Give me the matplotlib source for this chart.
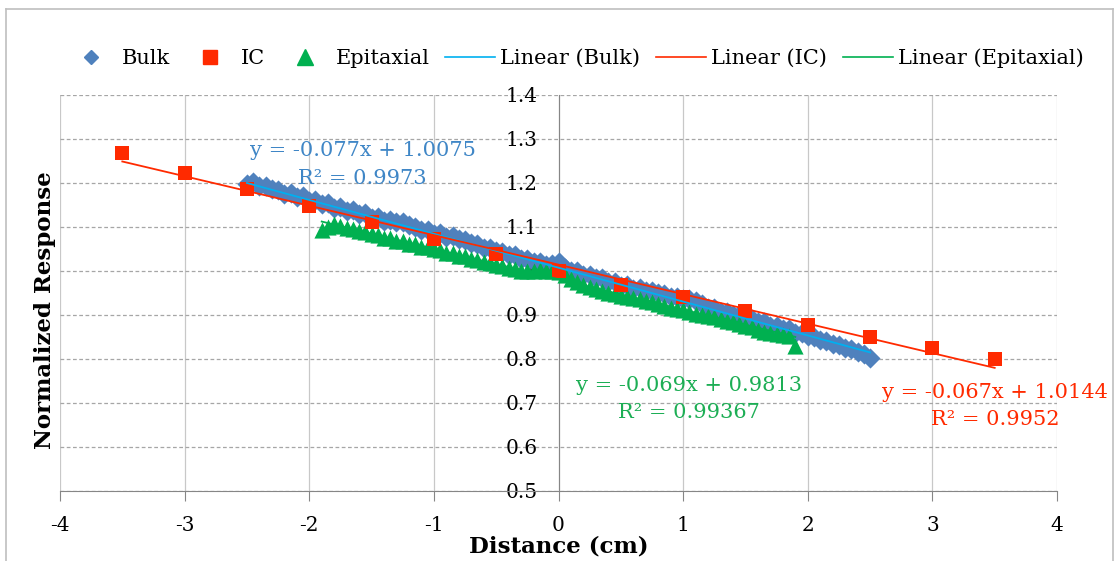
import matplotlib
matplotlib.use("Agg")
import matplotlib.pyplot as plt
from matplotlib.lines import Line2D

# --- data ---
bulk_x = [-2.50, -2.45, -2.40, -2.35, -2.30, -2.25, -2.20, -2.15, -2.10, -2.05,
          -2.00, -1.95, -1.90, -1.85, -1.80, -1.75, -1.70, -1.65, -1.60, -1.55,
          -1.50, -1.45, -1.40, -1.35, -1.30, -1.25, -1.20, -1.15, -1.10, -1.05,
          -1.00, -0.95, -0.90, -0.85, -0.80, -0.75, -0.70, -0.65, -0.60, -0.55,
          -0.50, -0.45, -0.40, -0.35, -0.30, -0.25, -0.20, -0.15, -0.10, -0.05,
          0.00, 0.05, 0.10, 0.15, 0.20, 0.25, 0.30, 0.35, 0.40, 0.45,
          0.50, 0.55, 0.60, 0.65, 0.70, 0.75, 0.80, 0.85, 0.90, 0.95,
          1.00, 1.05, 1.10, 1.15, 1.20, 1.25, 1.30, 1.35, 1.40, 1.45,
          1.50, 1.55, 1.60, 1.65, 1.70, 1.75, 1.80, 1.85, 1.90, 1.95,
          2.00, 2.05, 2.10, 2.15, 2.20, 2.25, 2.30, 2.35, 2.40, 2.45, 2.50]
bulk_y = [1.198, 1.203, 1.194, 1.193, 1.186, 1.184, 1.175, 1.177, 1.168, 1.170,
          1.160, 1.161, 1.152, 1.154, 1.144, 1.146, 1.136, 1.138, 1.129, 1.131,
          1.121, 1.122, 1.114, 1.116, 1.112, 1.112, 1.104, 1.101, 1.093, 1.093,
          1.085, 1.086, 1.077, 1.079, 1.072, 1.071, 1.063, 1.062, 1.053, 1.053,
          1.045, 1.044, 1.036, 1.036, 1.028, 1.028, 1.020, 1.021, 1.014, 1.015,
          1.020, 1.007, 0.999, 1.000, 0.991, 0.991, 0.983, 0.984, 0.975, 0.976,
          0.967, 0.968, 0.960, 0.961, 0.954, 0.955, 0.949, 0.948, 0.942, 0.940,
          0.936, 0.937, 0.931, 0.925, 0.916, 0.915, 0.907, 0.907, 0.899, 0.899,
          0.891, 0.891, 0.883, 0.883, 0.876, 0.876, 0.868, 0.868, 0.860, 0.859,
          0.852, 0.850, 0.843, 0.842, 0.834, 0.832, 0.825, 0.822, 0.815, 0.812, 0.803]

ic_x = [-3.5, -3.0, -2.5, -2.0, -1.5, -1.0, -0.5, 0.0, 0.5, 1.0, 1.5, 2.0, 2.5, 3.0, 3.5]
ic_y = [1.268, 1.222, 1.186, 1.147, 1.111, 1.072, 1.038, 0.999, 0.969, 0.940,
        0.910, 0.878, 0.849, 0.824, 0.799]

epi_x = [-1.90, -1.85, -1.80, -1.75, -1.70, -1.65, -1.60, -1.55, -1.50, -1.45,
         -1.40, -1.35, -1.30, -1.25, -1.20, -1.15, -1.10, -1.05, -1.00, -0.95,
         -0.90, -0.85, -0.80, -0.75, -0.70, -0.65, -0.60, -0.55, -0.50, -0.45,
         -0.40, -0.35, -0.30, -0.25, -0.20, -0.15, -0.10, -0.05, 0.00, 0.05,
         0.10, 0.15, 0.20, 0.25, 0.30, 0.35, 0.40, 0.45, 0.50, 0.55,
         0.60, 0.65, 0.70, 0.75, 0.80, 0.85, 0.90, 0.95, 1.00, 1.05,
         1.10, 1.15, 1.20, 1.25, 1.30, 1.35, 1.40, 1.45, 1.50, 1.55,
         1.60, 1.65, 1.70, 1.75, 1.80, 1.85, 1.90]
epi_y = [1.094, 1.100, 1.106, 1.103, 1.097, 1.096, 1.090, 1.089, 1.083, 1.082,
         1.076, 1.075, 1.069, 1.068, 1.062, 1.062, 1.055, 1.054, 1.050, 1.047,
         1.041, 1.040, 1.034, 1.033, 1.027, 1.026, 1.020, 1.019, 1.014, 1.012,
         1.006, 1.005, 1.000, 1.001, 0.999, 1.002, 1.000, 1.001, 0.998, 0.990,
         0.981, 0.974, 0.968, 0.963, 0.958, 0.955, 0.950, 0.948, 0.944, 0.942,
         0.939, 0.937, 0.932, 0.929, 0.924, 0.921, 0.917, 0.914, 0.911, 0.907,
         0.903, 0.901, 0.898, 0.895, 0.891, 0.887, 0.883, 0.879, 0.875, 0.872,
         0.866, 0.862, 0.858, 0.856, 0.855, 0.853, 0.830]

# trend lines: slope, intercept, x-range
fit_bulk = (-0.077, 1.0075, -2.5, 2.5)
fit_ic = (-0.067, 1.0144, -3.5, 3.5)
fit_epi = (-0.069, 0.9813, -1.9, 1.9)

x_ticks = [-4, -3, -2, -1, 0, 1, 2, 3, 4]
y_ticks = [0.5, 0.6, 0.7, 0.8, 0.9, 1.0, 1.1, 1.2, 1.3, 1.4]
y_tick_labels = ["0.5", "0.6", "0.7", "0.8", "0.9", "1", "1.1", "1.2", "1.3", "1.4"]

C_BULK = "#4F81BD"
C_IC = "#FF2A00"
C_EPI = "#00B050"
C_BULK_LINE = "#00B0F0"

plt.rcParams["font.family"] = ["DejaVu Serif"]

fig = plt.figure(figsize=(11.15, 5.61), dpi=100)
W, H = 1115, 561
ax = fig.add_axes([60 / W, 1 - 491 / H, (1057 - 60) / W, (491 - 95) / H])

ax.scatter(bulk_x, bulk_y, marker="D", s=105, color=C_BULK, linewidths=0, zorder=3)
ax.scatter(epi_x, epi_y, marker="^", s=135, color=C_EPI, linewidths=0, zorder=3)
ax.scatter(ic_x, ic_y, marker="s", s=100, color=C_IC, linewidths=0, zorder=4)

for (m, b, x0, x1), c in [(fit_bulk, C_BULK_LINE), (fit_epi, C_EPI), (fit_ic, C_IC)]:
    ax.plot([x0, x1], [m * x0 + b, m * x1 + b], color=c, lw=1.3, zorder=5)

ax.set_xlim(-4, 4)
ax.set_ylim(0.5, 1.4)
ax.set_xticks(x_ticks)
ax.set_xticklabels([str(t) for t in x_ticks])
ax.set_yticks(y_ticks)
ax.set_yticklabels(y_tick_labels)

for s in ["top", "right"]:
    ax.spines[s].set_visible(False)
ax.spines["left"].set_position(("data", 0))
ax.spines["left"].set_color("#868686")
ax.spines["bottom"].set_color("#868686")
ax.spines["left"].set_zorder(2)

ax.yaxis.grid(True, linestyle=(0, (3, 2)), color="#A6A6A6", lw=0.9)
ax.xaxis.grid(True, linestyle="-", color="#C8C8C8", lw=0.9)
ax.set_axisbelow(True)

ax.tick_params(axis="x", direction="out", length=7, color="#868686",
               labelsize=14.5, pad=11)
ax.tick_params(axis="y", length=0, labelsize=14.5, pad=15)

ax.set_xlabel("Distance (cm)", fontsize=16.5, fontweight="bold")
ax.xaxis.label.set_verticalalignment("center")
ax.xaxis.set_label_coords(558.6 / W, 1 - 546 / H, transform=fig.transFigure)
fig.text(45 / W, 1 - 310 / H, "Normalized Response", rotation=90, fontsize=16.5,
         fontweight="bold", ha="center", va="center")

ax.text(-1.571, 1.241, "y = -0.077x + 1.0075\nR² = 0.9973", color="#3F86C6",
        fontsize=15, ha="center", va="center", linespacing=1.6, zorder=6)
ax.text(1.047, 0.709, "y = -0.069x + 0.9813\nR² = 0.99367", color="#1DAE55",
        fontsize=15, ha="center", va="center", linespacing=1.5, zorder=6)
ax.text(3.505, 0.693, "y = -0.067x + 1.0144\nR² = 0.9952", color=C_IC,
        fontsize=15, ha="center", va="center", linespacing=1.5, zorder=6,
        clip_on=False)

handles = [
    Line2D([], [], ls="none", marker="D", ms=7, color=C_BULK),
    Line2D([], [], ls="none", marker="s", ms=10, color=C_IC),
    Line2D([], [], ls="none", marker="^", ms=11, color=C_EPI),
    Line2D([], [], color=C_BULK_LINE, lw=1.2),
    Line2D([], [], color=C_IC, lw=1.2),
    Line2D([], [], color=C_EPI, lw=1.2),
]
labels = ["Bulk", "IC", "Epitaxial", "Linear (Bulk)", "Linear (IC)", "Linear (Epitaxial)"]
fig.legend(handles, labels, loc="center", bbox_to_anchor=(575 / W, 1 - 58 / H),
           ncol=6, frameon=False, fontsize=15, handlelength=2.4,
           handletextpad=0.25, columnspacing=0.75)

# chart frame
for xs, ys in [([6, 6], [561, 9]), ([6, 1113], [9, 9]), ([1113, 1113], [9, 561])]:
    fig.add_artist(Line2D([x / W for x in xs], [1 - y / H for y in ys],
                          color="#BFBFBF", lw=1.2, transform=fig.transFigure))

fig.savefig("out.png", dpi=100)
